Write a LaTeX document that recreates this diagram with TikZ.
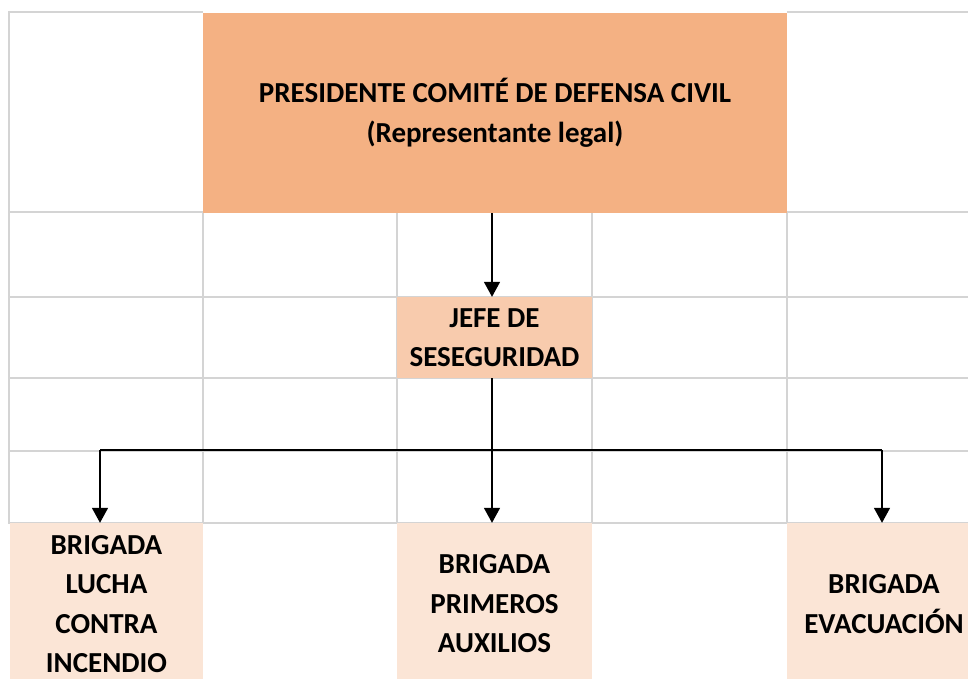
\documentclass[tikz,border=0pt]{standalone}
\usepackage{fontspec}
\setmainfont{Carlito}
\usetikzlibrary{arrows.meta}
\definecolor{gridc}{HTML}{D4D4D4}
\definecolor{boxA}{HTML}{F4B183}
\definecolor{boxB}{HTML}{F8CBAD}
\definecolor{boxC}{HTML}{FBE5D6}
\tikzset{
  cell/.style={inner sep=0pt, align=center, font=\fontsize{29}{39.5}\selectfont\bfseries},
  gridline/.style={draw=gridc, line width=2pt},
  conn/.style={draw=black, line width=1.6pt},
  arr/.style={conn, -{Triangle[width=16pt,length=15pt]}}
}
\begin{document}
\begin{tikzpicture}[x=1pt,y=-1pt]
\useasboundingbox (0,0) rectangle (968,679);
\clip (0,0) rectangle (968,679);
% grid
\foreach \yy in {212,297,378,451,523} \draw[gridline] (9,\yy) -- (975,\yy);
\draw[gridline] (9,12) -- (203,12);
\draw[gridline] (787,12) -- (975,12);
\draw[gridline] (9,11) -- (9,524);
\foreach \xx in {203,397,592,787} \draw[gridline] (\xx,212) -- (\xx,524);
% boxes
\node[cell, fill=boxA, minimum width=584pt, minimum height=200pt] (pres) at (495,113)
  {PRESIDENTE COMITÉ DE DEFENSA CIVIL\\(Representante legal)};
\node[cell, fill=boxB, minimum width=195pt, minimum height=81pt] (jefe) at (494.5,337.5)
  {JEFE DE\\SESEGURIDAD};
\node[cell, fill=boxC, minimum width=193pt, minimum height=162pt] (lucha) at (106.5,604)
  {BRIGADA\\LUCHA\\CONTRA\\INCENDIO};
\node[cell, fill=boxC, minimum width=195pt, minimum height=162pt] (aux) at (494.5,604)
  {BRIGADA\\PRIMEROS\\AUXILIOS};
\node[cell, fill=boxC, minimum width=194pt, minimum height=162pt] (evac) at (884,604)
  {BRIGADA\\EVACUACIÓN};
% connectors
\coordinate (hl) at (100,450);
\coordinate (hr) at (882,450);
\coordinate (jx) at (492,0);
\draw[arr] (pres.south -| jx) -- (jefe.north -| jx);
\draw[arr] (jefe.south -| jx) -- (aux.north -| jx);
\draw[conn] (hl) -- (hr);
\draw[arr] (hl) -- (hl |- lucha.north);
\draw[arr] (hr) -- (hr |- evac.north);
\end{tikzpicture}
\end{document}
